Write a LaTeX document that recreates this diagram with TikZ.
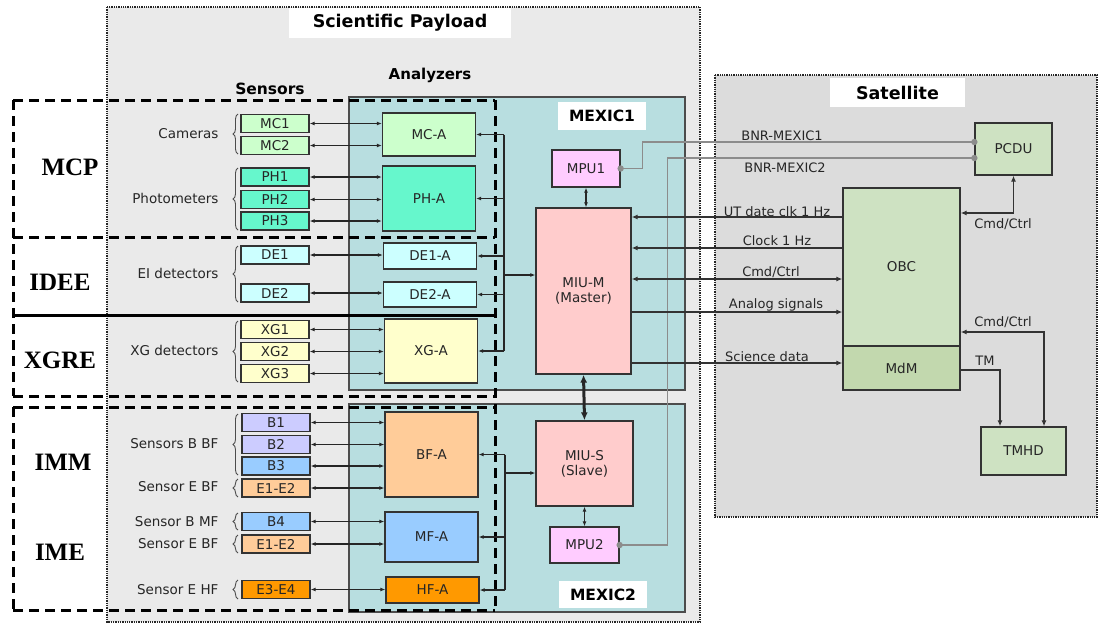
\documentclass[tikz,border=0pt]{standalone}
\usepackage{fontspec}
\setmainfont{DejaVu Sans}
\newfontfamily\grpfont{Liberation Serif}
\usetikzlibrary{arrows.meta}
\usetikzlibrary{decorations.pathreplacing}

\definecolor{payloadgray}{HTML}{EAEAEA}
\definecolor{satgray}{HTML}{DCDCDC}
\definecolor{mexicteal}{HTML}{B8DEE0}
\definecolor{mcgreen}{HTML}{CCFFCC}
\definecolor{phgreen}{HTML}{66F7CC}
\definecolor{decyan}{HTML}{CCFFFF}
\definecolor{xgyellow}{HTML}{FFFFCC}
\definecolor{blav}{HTML}{CCCCFF}
\definecolor{bblue}{HTML}{99CCFF}
\definecolor{eorange}{HTML}{FFCC99}
\definecolor{horange}{HTML}{FF9900}
\definecolor{miupink}{HTML}{FFCCCC}
\definecolor{mpupink}{HTML}{FFCCFF}
\definecolor{obcgreen}{HTML}{CEE2C2}
\definecolor{mdmgreen}{HTML}{C2D8AE}
\definecolor{bnrgray}{HTML}{8C8C8C}

\tikzset{
  box/.style={draw=black!80, line width=1.3pt, inner sep=0pt, text=black!85},
  sens/.style={box, minimum width=68pt, minimum height=18pt},
  anlz/.style={box, minimum width=93pt},
  blk/.style={box, align=center},
  ttl/.style={fill=white, inner sep=0pt, font=\fontsize{17.5}{19}\selectfont\bfseries},
  subttl/.style={inner sep=0pt, font=\fontsize{15.5}{17}\selectfont\bfseries},
  grp/.style={inner sep=0pt, font=\fontsize{25}{27}\selectfont\grpfont\bfseries},
  grpframe/.style={line width=3pt, dash pattern=on 10pt off 6pt},
  panel/.style={draw=black!85, densely dotted, line width=1.3pt},
  twoarr/.style={{Latex[length=5pt,width=4pt]}-{Latex[length=5pt,width=4pt]}, line width=1.1pt, black!85},
  onearr/.style={-{Latex[length=5pt,width=4pt]}, line width=1.1pt, black!85},
  sigarr/.style={-{Latex[length=6pt,width=5pt]}, line width=1.8pt, black!80},
  sigtwo/.style={{Latex[length=6pt,width=5pt]}-{Latex[length=6pt,width=5pt]}, line width=1.8pt, black!80},
  bnr/.style={bnrgray, line width=1.5pt},
  sbrace/.style={decorate, decoration={brace, amplitude=5pt}, line width=0.9pt, black!70},
  slabel/.style={anchor=east, text=black!85},
  siglabel/.style={inner sep=0pt, text=black!85, font=\fontsize{13}{15}\selectfont}
}

\begin{document}
\begin{tikzpicture}[x=1pt, y=-1pt, every node/.style={font=\fontsize{13.5}{15}\selectfont}]
\useasboundingbox (0,0) rectangle (1099,624);

% panels
\filldraw[panel, fill=payloadgray] (107,7) rectangle (700,622);
\filldraw[panel, fill=satgray] (715,75) rectangle (1097,517);
\node[ttl, minimum width=222pt, minimum height=30pt] (payttl) at (400,23) {Scientific Payload};
\node[ttl, minimum width=135pt, minimum height=29pt] (satttl) at (897.5,92.5) {Satellite};
\node[subttl, font=\fontsize{15}{17}\selectfont\bfseries] (anlzttl) at (430,75) {Analyzers};
\node[subttl] (sensttl) at (270,89) {Sensors};

% MEXIC units
\filldraw[draw=black!70, line width=1.2pt, fill=mexicteal] (349,97) rectangle (685,390);
\filldraw[draw=black!70, line width=1.2pt, fill=mexicteal] (349,404) rectangle (685,612);
\node[ttl, font=\fontsize{15.5}{17}\selectfont\bfseries, minimum width=88pt, minimum height=28pt] (mex1ttl) at (602,116) {MEXIC1};
\node[ttl, font=\fontsize{15.5}{17}\selectfont\bfseries, minimum width=88pt, minimum height=27pt] (mex2ttl) at (603,594.5) {MEXIC2};

% instrument frames
\draw[grpframe] (13,100) -- (495,100);
\draw[grpframe] (495,100) -- (495,610);
\draw[grpframe] (13,100) -- (13,396);
\draw[grpframe] (13,407) -- (13,610);
\draw[grpframe] (13,237) -- (495,237);
\draw[grpframe] (13,396) -- (495,396);
\draw[grpframe] (13,407) -- (495,407);
\draw[grpframe] (13,610) -- (495,610);
\draw[line width=3pt] (13,315) -- (495,315);

\node[grp] (mcp) at (70,167) {MCP};
\node[grp] (idee) at (60,282) {IDEE};
\node[grp] (xgre) at (60,360) {XGRE};
\node[grp] (imm) at (63,462) {IMM};
\node[grp] (ime) at (60,552) {IME};

% sensors
\node[sens, fill=mcgreen] (mc1) at (275,123.5) {MC1};
\node[sens, fill=mcgreen] (mc2) at (275,145.5) {MC2};
\node[sens, fill=phgreen] (ph1) at (275,177) {PH1};
\node[sens, fill=phgreen] (ph2) at (275,199.5) {PH2};
\node[sens, fill=phgreen] (ph3) at (275,221) {PH3};
\node[sens, fill=decyan] (de1) at (275,255) {DE1};
\node[sens, fill=decyan] (de2) at (275,293) {DE2};
\node[sens, fill=xgyellow] (xg1) at (275,329.5) {XG1};
\node[sens, fill=xgyellow] (xg2) at (275,351.5) {XG2};
\node[sens, fill=xgyellow] (xg3) at (275,373.5) {XG3};
\node[sens, fill=blav] (b1) at (276,422.5) {B1};
\node[sens, fill=blav] (b2) at (276,444.5) {B2};
\node[sens, fill=bblue] (b3) at (276,466) {B3};
\node[sens, fill=eorange] (ebf) at (276,488) {E1-E2};
\node[sens, fill=bblue] (b4) at (276,521.5) {B4};
\node[sens, fill=eorange] (emf) at (276,544) {E1-E2};
\node[sens, fill=horange] (ehf) at (276,589.5) {E3-E4};

% sensor groups
\draw[sbrace] (238,154) -- (238,114);
\node[slabel] (camlbl) at (222,134) {Cameras};
\draw[sbrace] (238,230) -- (238,168);
\node[slabel] (phlbl) at (222,198) {Photometers};
\draw[sbrace] (238,302) -- (238,246);
\node[slabel] (delbl) at (222,273) {EI detectors};
\draw[sbrace] (238,382) -- (238,321);
\node[slabel] (xglbl) at (222,350) {XG detectors};
\draw[sbrace] (238,475) -- (238,414);
\node[slabel] (bbflbl) at (222,444) {Sensors B BF};
\draw[sbrace] (238,497) -- (238,479);
\node[slabel] (ebflbl) at (222,487) {Sensor E BF};
\draw[sbrace] (238,530) -- (238,513);
\node[slabel] (bmflbl) at (222,522) {Sensor B MF};
\draw[sbrace] (238,553) -- (238,535);
\node[slabel] (emflbl) at (222,544) {Sensor E BF};
\draw[sbrace] (238,599) -- (238,580);
\node[slabel] (ehflbl) at (222,590) {Sensor E HF};

% analyzers
\node[anlz, fill=mcgreen, minimum height=43pt] (mca) at (429,134.5) {MC-A};
\node[anlz, fill=phgreen, minimum height=65pt] (pha) at (429,198.5) {PH-A};
\node[anlz, fill=decyan, minimum height=26pt] (de1a) at (430,256) {DE1-A};
\node[anlz, fill=decyan, minimum height=25pt] (de2a) at (430,294.5) {DE2-A};
\node[anlz, fill=xgyellow, minimum height=64pt] (xga) at (431,351) {XG-A};
\node[anlz, fill=eorange, minimum height=85pt] (bfa) at (431.5,454.5) {BF-A};
\node[anlz, fill=bblue, minimum height=50pt] (mfa) at (431.5,537) {MF-A};
\node[anlz, fill=horange, minimum height=26pt] (hfa) at (432.5,590) {HF-A};

% sensor links
\foreach \s/\a in {mc1/mca, mc2/mca, ph1/pha, ph2/pha, ph3/pha, de1/de1a, de2/de2a,
                   xg1/xga, xg2/xga, xg3/xga, b1/bfa, b2/bfa, b3/bfa, ebf/bfa,
                   b4/mfa, emf/mfa, ehf/hfa}
  \draw[twoarr] (\s.east) -- (\s.east -| \a.west);

% processing units
\node[blk, fill=mpupink, minimum width=68pt, minimum height=37pt] (mpu1) at (586,168.5) {MPU1};
\node[blk, fill=miupink, minimum width=95pt, minimum height=166pt] (mium) at (583.5,291) {MIU-M\\(Master)};
\node[blk, fill=miupink, minimum width=97pt, minimum height=85pt] (mius) at (584.5,463.5) {MIU-S\\(Slave)};
\node[blk, fill=mpupink, minimum width=69pt, minimum height=36pt] (mpu2) at (584.5,545) {MPU2};

% satellite units
\node[blk, fill=obcgreen, minimum width=117pt, minimum height=158pt] (obc) at (901.5,267) {OBC};
\node[blk, fill=mdmgreen, minimum width=117pt, minimum height=44pt] (mdm) at (901.5,368) {MdM};
\node[blk, fill=obcgreen, minimum width=77pt, minimum height=52pt] (pcdu) at (1013.5,149) {PCDU};
\node[blk, fill=obcgreen, minimum width=85pt, minimum height=48pt] (tmhd) at (1023.5,451) {TMHD};

% BNR lines
\draw[bnr] (mpu1.east) -- ++(22,0) |- (pcdu.west |- 0,142);
\draw[bnr] (mpu2.east) -- ++(48,0) |- (pcdu.west |- 0,158);
\fill[bnrgray] (mpu1.east) circle (3.2);
\fill[bnrgray] (mpu2.east) circle (3.2);
\fill[bnrgray] (pcdu.west |- 0,142) circle (3.2);
\fill[bnrgray] (pcdu.west |- 0,158) circle (3.2);
\node[siglabel] (bnr1lbl) at (782,136) {BNR-MEXIC1};
\node[siglabel] (bnr2lbl) at (785,168) {BNR-MEXIC2};

% MEXIC1 bus
\coordinate (bus1) at (504,0);
\coordinate (bus1in) at (504,275);
\draw[line width=1.3pt, black!85] (bus1 |- mca.east) -- (bus1 |- xga.east);
\foreach \a in {mca, pha, de1a, de2a, xga}
  \draw[onearr] (bus1 |- \a.east) -- (\a.east);
\draw[onearr] (bus1in) -- (bus1in -| mium.west);

% MEXIC2 bus
\coordinate (bus2) at (505,0);
\coordinate (bus2in) at (505,473);
\draw[line width=1.3pt, black!85] (bus2 |- bfa.east) -- (bus2 |- hfa.east);
\foreach \a in {bfa, mfa, hfa}
  \draw[onearr] (bus2 |- \a.east) -- (\a.east);
\draw[onearr] (bus2in) -- (bus2in -| mius.west);

% MIU links
\draw[twoarr] (mpu1.south) -- (mpu1.south |- mium.north);
\draw[{Latex[length=8pt,width=7pt]}-{Latex[length=8pt,width=7pt]}, line width=3pt, black!85] (mium.south) -- (mius.north);
\draw[twoarr] (mpu2.north) -- (mpu2.north |- mius.south);

% MEXIC1 to satellite
\draw[sigarr] (obc.west |- 0,217) -- (mium.east |- 0,217);
\node[siglabel] (utlbl) at (777,212) {UT date clk 1 Hz};
\draw[sigarr] (obc.west |- 0,248) -- (mium.east |- 0,248);
\node[siglabel] (clklbl) at (777,241) {Clock 1 Hz};
\draw[sigtwo] (mium.east |- 0,279) -- (obc.west |- 0,279);
\node[siglabel] (cmdlbl) at (771,272) {Cmd/Ctrl};
\draw[sigarr] (mium.east |- 0,312) -- (obc.west |- 0,312);
\node[siglabel] (anlbl) at (776,305) {Analog signals};
\draw[sigarr] (mium.east |- 0,363) -- (mdm.west |- 0,363);
\node[siglabel] (scilbl) at (767,357) {Science data};

% inside satellite
\draw[sigtwo] (obc.east |- 0,213) -| (pcdu.south);
\node[siglabel] (pcdulbl) at (1003,224) {Cmd/Ctrl};
\draw[sigtwo] (obc.east |- 0,332) -| ([xshift=20.5pt]tmhd.north);
\node[siglabel] (tmhdlbl) at (1003,322) {Cmd/Ctrl};
\draw[sigarr] (mdm.east |- 0,370) -| ([xshift=-23.5pt]tmhd.north);
\node[siglabel] (tmlbl) at (985,361) {TM};

\end{tikzpicture}
\end{document}
